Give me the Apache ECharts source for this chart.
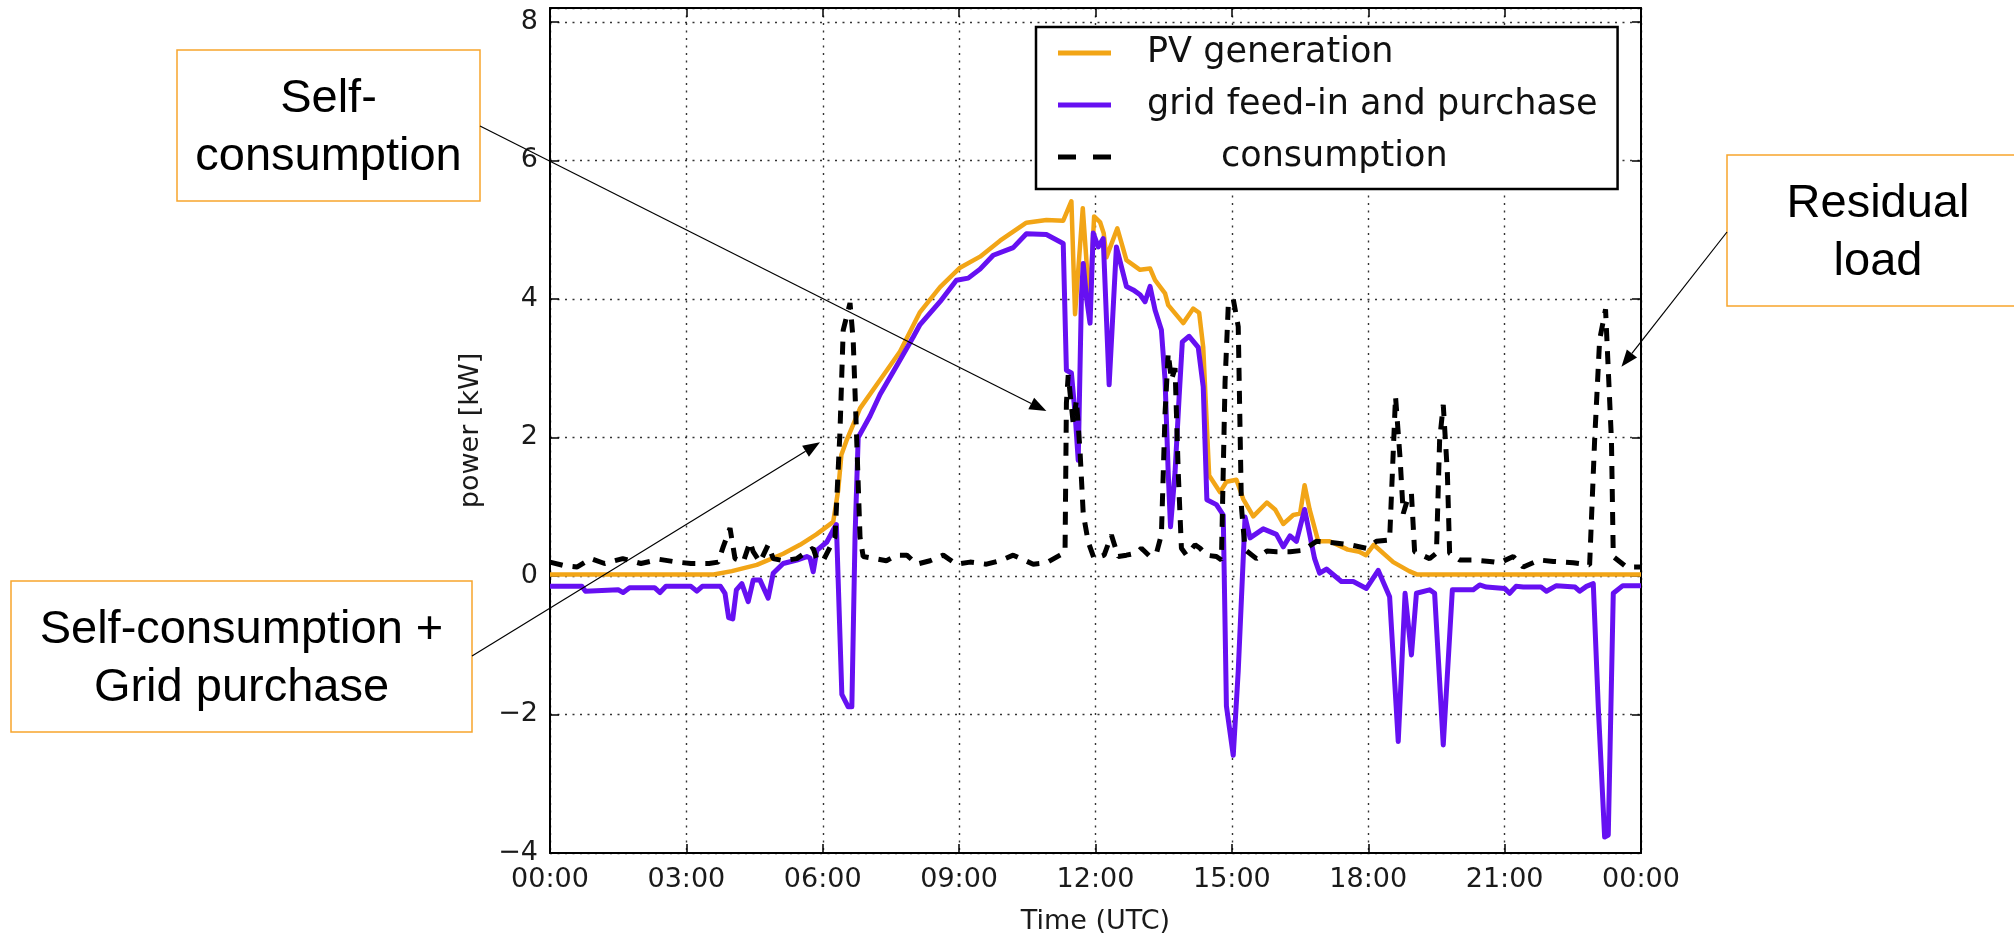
<!DOCTYPE html>
<html>
<head>
<meta charset="utf-8">
<script src="https://cdn.jsdelivr.net/npm/echarts@6/dist/echarts.min.js"></script>
<style>
  html, body { margin: 0; padding: 0; background: #fff; }
  #main { width: 2014px; height: 938px; }
</style>
</head>
<body>
<div id="main"></div>
<script>
// time in hours (UTC) and power in kW
var pvHours = [0, 3.6, 4.0, 4.55, 5.13, 5.5, 5.86, 6.23, 6.34, 6.41, 6.52, 6.82, 7.26, 7.7, 8.14, 8.58, 9.02, 9.46, 9.9, 10.48, 10.92, 11.29, 11.47, 11.55, 11.72, 11.87, 11.97, 12.1, 12.18, 12.24, 12.48, 12.68, 12.98, 13.2, 13.31, 13.53, 13.6, 13.93, 14.15, 14.28, 14.37, 14.5, 14.74, 14.88, 15.1, 15.25, 15.47, 15.77, 15.95, 16.13, 16.35, 16.5, 16.6, 16.71, 16.9, 17.15, 17.55, 17.8, 17.95, 18.12, 18.55, 18.9, 19.08, 24];
var pvKw = [0.02, 0.02, 0.07, 0.16, 0.32, 0.45, 0.6, 0.78, 1.24, 1.75, 1.95, 2.42, 2.83, 3.24, 3.81, 4.17, 4.45, 4.61, 4.84, 5.1, 5.14, 5.13, 5.41, 3.78, 5.31, 3.9, 5.19, 5.11, 4.95, 4.6, 5.02, 4.56, 4.42, 4.44, 4.27, 4.08, 3.91, 3.65, 3.86, 3.8, 3.3, 1.45, 1.21, 1.36, 1.39, 1.11, 0.86, 1.06, 0.96, 0.75, 0.88, 0.9, 1.31, 0.96, 0.5, 0.5, 0.38, 0.35, 0.3, 0.45, 0.2, 0.07, 0.02, 0.02];

var gridHours = [0, 0.7, 0.78, 1.5, 1.61, 1.75, 2.3, 2.42, 2.55, 3.1, 3.23, 3.35, 3.75, 3.85, 3.93, 4.02, 4.1, 4.22, 4.36, 4.47, 4.62, 4.8, 4.91, 5.13, 5.43, 5.65, 5.72, 5.79, 5.87, 6.09, 6.27, 6.3, 6.42, 6.56, 6.64, 6.71, 6.78, 7.04, 7.26, 7.63, 7.99, 8.14, 8.58, 8.94, 9.2, 9.46, 9.75, 10.19, 10.48, 10.92, 11.29, 11.36, 11.47, 11.55, 11.62, 11.69, 11.73, 11.8, 11.88, 11.95, 12.06, 12.17, 12.3, 12.46, 12.68, 12.83, 12.98, 13.09, 13.2, 13.31, 13.45, 13.53, 13.6, 13.65, 13.75, 13.84, 13.91, 14.06, 14.26, 14.37, 14.45, 14.66, 14.81, 14.88, 15.03, 15.14, 15.29, 15.4, 15.69, 15.98, 16.13, 16.28, 16.42, 16.6, 16.82, 16.93, 17.08, 17.41, 17.67, 17.96, 18.22, 18.47, 18.66, 18.81, 18.95, 19.06, 19.35, 19.46, 19.65, 19.85, 20.31, 20.45, 20.6, 21.0, 21.11, 21.25, 21.41, 21.8, 21.92, 22.14, 22.55, 22.65, 22.8, 22.95, 23.06, 23.2, 23.28, 23.39, 23.6, 24];
var gridKw = [-0.15, -0.15, -0.22, -0.2, -0.24, -0.17, -0.17, -0.24, -0.15, -0.15, -0.22, -0.15, -0.15, -0.25, -0.6, -0.62, -0.2, -0.11, -0.37, -0.06, -0.06, -0.32, 0.04, 0.18, 0.23, 0.28, 0.26, 0.06, 0.37, 0.49, 0.71, 0.74, -1.71, -1.89, -1.89, 0.56, 2.0, 2.31, 2.62, 3.04, 3.45, 3.63, 3.96, 4.27, 4.3, 4.43, 4.63, 4.74, 4.94, 4.93, 4.8, 2.97, 2.93, 2.35, 1.67, 4.03, 4.51, 4.03, 3.65, 4.95, 4.75, 4.87, 2.76, 4.75, 4.18, 4.13, 4.06, 3.96, 4.18, 3.84, 3.55, 2.83, 1.48, 0.71, 1.5, 2.59, 3.38, 3.46, 3.3, 2.73, 1.1, 1.03, 0.88, -1.88, -2.59, -1.37, 0.85, 0.55, 0.68, 0.6, 0.42, 0.58, 0.5, 0.96, 0.25, 0.04, 0.1, -0.08, -0.08, -0.18, 0.08, -0.3, -2.39, -0.25, -1.14, -0.25, -0.2, -0.25, -2.44, -0.2, -0.2, -0.13, -0.16, -0.18, -0.25, -0.15, -0.16, -0.16, -0.22, -0.14, -0.16, -0.22, -0.15, -0.11, -1.89, -3.77, -3.74, -0.25, -0.14, -0.14];

var loadHours = [0, 0.3, 0.6, 0.9, 1.2, 1.6, 2.0, 2.4, 2.8, 3.1, 3.5, 3.7, 3.81, 3.96, 4.07, 4.25, 4.4, 4.47, 4.62, 4.8, 4.91, 5.13, 5.43, 5.65, 5.79, 5.87, 6.01, 6.27, 6.38, 6.45, 6.6, 6.67, 6.74, 6.82, 6.89, 7.4, 7.63, 7.85, 8.07, 8.36, 8.65, 8.94, 9.24, 9.6, 9.9, 10.19, 10.63, 10.92, 11.22, 11.33, 11.36, 11.4, 11.51, 11.58, 11.66, 11.73, 11.84, 11.97, 12.19, 12.35, 12.5, 12.68, 12.9, 13.01, 13.2, 13.35, 13.45, 13.53, 13.6, 13.67, 13.75, 13.82, 13.89, 14.0, 14.19, 14.3, 14.44, 14.66, 14.77, 14.85, 14.92, 15.03, 15.14, 15.21, 15.29, 15.54, 15.77, 15.98, 16.28, 16.57, 16.86, 17.23, 17.59, 17.96, 18.18, 18.47, 18.6, 18.7, 18.77, 18.88, 18.95, 19.02, 19.35, 19.5, 19.57, 19.65, 19.74, 19.79, 20.01, 20.31, 20.67, 20.89, 21.19, 21.41, 21.77, 22.07, 22.51, 22.87, 22.98, 23.09, 23.22, 23.35, 23.39, 23.68, 24];
var loadKw = [0.2, 0.15, 0.13, 0.25, 0.18, 0.25, 0.18, 0.24, 0.2, 0.18, 0.18, 0.2, 0.42, 0.69, 0.25, 0.2, 0.49, 0.35, 0.2, 0.45, 0.25, 0.22, 0.25, 0.35, 0.4, 0.24, 0.22, 0.56, 2.1, 3.55, 3.94, 3.4, 2.1, 0.56, 0.28, 0.22, 0.3, 0.3, 0.17, 0.22, 0.3, 0.17, 0.2, 0.17, 0.22, 0.3, 0.17, 0.19, 0.3, 0.34, 2.5, 2.9, 2.2, 2.54, 1.8, 0.9, 0.49, 0.25, 0.3, 0.59, 0.28, 0.3, 0.33, 0.4, 0.28, 0.35, 0.6, 2.35, 3.22, 2.83, 3.0, 1.5, 0.4, 0.3, 0.45, 0.4, 0.3, 0.28, 0.23, 2.8, 3.89, 4.0, 3.6, 1.0, 0.38, 0.25, 0.36, 0.35, 0.35, 0.37, 0.5, 0.48, 0.45, 0.4, 0.5, 0.52, 2.59, 1.7, 0.9, 1.14, 1.19, 0.35, 0.25, 0.33, 1.96, 2.47, 1.5, 0.33, 0.23, 0.23, 0.21, 0.19, 0.28, 0.13, 0.23, 0.21, 0.19, 0.16, 1.96, 3.41, 3.85, 1.96, 0.28, 0.13, 0.13];

var seriesNames = ['PV generation', 'grid feed-in and purchase', 'consumption'];
var xTickLabels = ['00:00', '03:00', '06:00', '09:00', '12:00', '15:00', '18:00', '21:00', '00:00'];

// text boxes with arrows pointing into the plot
var notes = [
  { text: 'Self-\nconsumption', box: [177, 50, 303, 151], from: [480, 126], at: [10.92, 2.38] },
  { text: 'Self-consumption +\nGrid purchase', box: [11, 581, 461, 151], from: [472, 656], at: [5.94, 1.93] },
  { text: 'Residual\nload', box: [1727, 155, 302, 151], from: [1727, 232], at: [23.57, 3.02] }
];

function zip(xs, ys) {
  var out = [];
  for (var i = 0; i < xs.length; i++) out.push([xs[i], ys[i]]);
  return out;
}

var chartDom = document.getElementById('main');
var myChart = echarts.init(chartDom, null, { renderer: 'canvas' });

var axisFont = 'DejaVu Sans';
var tickText = { fontFamily: axisFont, fontSize: 27, color: '#1a1a1a' };

var option = {
  animation: false,
  backgroundColor: '#fff',
  grid: {
    left: 550, right: 373, top: 8, bottom: 85,
    outerBoundsMode: 'none',
    show: false
  },
  legend: {
    orient: 'vertical',
    left: 1036, top: 27,
    padding: [6, 20, 12, 22],
    backgroundColor: '#fff',
    borderColor: '#000',
    borderWidth: 2.5,
    borderRadius: 0,
    itemWidth: 53,
    itemHeight: 5,
    itemGap: 12,
    selectedMode: false,
    formatter: function (name) {
      return (name === 'consumption' ? '{wide|}' : '{gap|}') + name;
    },
    textStyle: {
      fontFamily: axisFont, fontSize: 35, color: '#111', lineHeight: 40,
      rich: { gap: { width: 31 }, wide: { width: 105 } }
    },
    data: [
      { name: seriesNames[0], icon: 'path://M0,0h53v5h-53z' },
      { name: seriesNames[1], icon: 'path://M0,0h53v5h-53z' },
      { name: seriesNames[2], icon: 'path://M0,0h18v5h-18zM35,0h18v5h-18z' }
    ]
  },
  xAxis: [
    {
      type: 'value', min: 0, max: 24, interval: 3, position: 'bottom',
      axisLine: { show: true, onZero: false, lineStyle: { color: '#000', width: 2 } },
      axisTick: { show: true, inside: true, length: 9, lineStyle: { color: '#000', width: 1.5 } },
      axisLabel: Object.assign({ margin: 13, formatter: function (v) { return xTickLabels[Math.round(v / 3)]; } }, tickText),
      splitLine: { show: true, lineStyle: { color: '#333', width: 1.4, type: [2, 5.5] } },
      name: 'Time (UTC)', nameLocation: 'middle', nameGap: 55,
      nameTextStyle: { fontFamily: axisFont, fontSize: 27, color: '#1a1a1a' }
    },
    {
      type: 'value', min: 0, max: 24, interval: 3, position: 'top',
      axisLine: { show: true, onZero: false, lineStyle: { color: '#000', width: 2 } },
      axisTick: { show: true, inside: true, length: 9, lineStyle: { color: '#000', width: 1.5 } },
      axisLabel: { show: false }, splitLine: { show: false }
    }
  ],
  yAxis: [
    {
      type: 'value', min: -4, max: 8.2, interval: 2, position: 'left',
      axisLine: { show: true, onZero: false, lineStyle: { color: '#000', width: 2 } },
      axisTick: { show: true, inside: true, length: 9, lineStyle: { color: '#000', width: 1.5 } },
      axisLabel: Object.assign({
        margin: 12,
        formatter: function (v) {
          if (Math.abs(v % 2) > 1e-6) return '';
          return v < 0 ? '\u2212' + Math.abs(v) : String(v);
        }
      }, tickText),
      splitLine: { show: true, lineStyle: { color: '#333', width: 1.4, type: [2, 5.5] } },
      name: 'power [kW]', nameLocation: 'middle', nameGap: 66, nameRotate: 90,
      nameTextStyle: { fontFamily: axisFont, fontSize: 27, color: '#1a1a1a' }
    },
    {
      type: 'value', min: -4, max: 8.2, interval: 2, position: 'right',
      axisLine: { show: true, onZero: false, lineStyle: { color: '#000', width: 2 } },
      axisTick: { show: true, inside: true, length: 9, lineStyle: { color: '#000', width: 1.5 } },
      axisLabel: { show: false }, splitLine: { show: false }
    }
  ],
  series: [
    {
      name: seriesNames[0], type: 'line', data: zip(pvHours, pvKw),
      symbol: 'none', showSymbol: false,
      color: '#f2a516',
      lineStyle: { color: '#f2a516', width: 4.5, join: 'round' }
    },
    {
      name: seriesNames[1], type: 'line', data: zip(gridHours, gridKw),
      symbol: 'none', showSymbol: false,
      color: '#6610f2',
      lineStyle: { color: '#6610f2', width: 5, join: 'round' }
    },
    {
      name: seriesNames[2], type: 'line', data: zip(loadHours, loadKw),
      symbol: 'none', showSymbol: false,
      color: '#000',
      lineStyle: { color: '#000', width: 5, type: [13, 10] }
    }
  ]
};

myChart.setOption(option);

// annotations: boxes are placed on the page, arrow tips follow the data axes
var graphics = [];
notes.forEach(function (n) {
  var tip = myChart.convertToPixel({ xAxisIndex: 0, yAxisIndex: 0 }, n.at);
  var dx = tip[0] - n.from[0], dy = tip[1] - n.from[1];
  var len = Math.sqrt(dx * dx + dy * dy);
  var ux = dx / len, uy = dy / len;
  var headLen = 17, headHalf = 6.5;
  var bx = tip[0] - ux * headLen, by = tip[1] - uy * headLen;
  graphics.push({
    type: 'rect', z: 100,
    shape: { x: n.box[0], y: n.box[1], width: n.box[2], height: n.box[3] },
    style: { fill: '#fff', stroke: '#f7a52d', lineWidth: 1.5 }
  });
  graphics.push({
    type: 'text', z: 101,
    style: {
      text: n.text,
      x: n.box[0] + n.box[2] / 2, y: n.box[1] + n.box[3] / 2 + 3,
      align: 'center', verticalAlign: 'middle',
      fontFamily: 'Liberation Sans', fontSize: 47, lineHeight: 58, fill: '#000'
    }
  });
  graphics.push({
    type: 'line', z: 102,
    shape: { x1: n.from[0], y1: n.from[1], x2: bx, y2: by },
    style: { stroke: '#000', lineWidth: 1.2 }
  });
  graphics.push({
    type: 'polygon', z: 102,
    shape: { points: [tip, [bx - uy * headHalf, by + ux * headHalf], [bx + uy * headHalf, by - ux * headHalf]] },
    style: { fill: '#000' }
  });
});
myChart.setOption({ graphic: graphics });
</script>
</body>
</html>
